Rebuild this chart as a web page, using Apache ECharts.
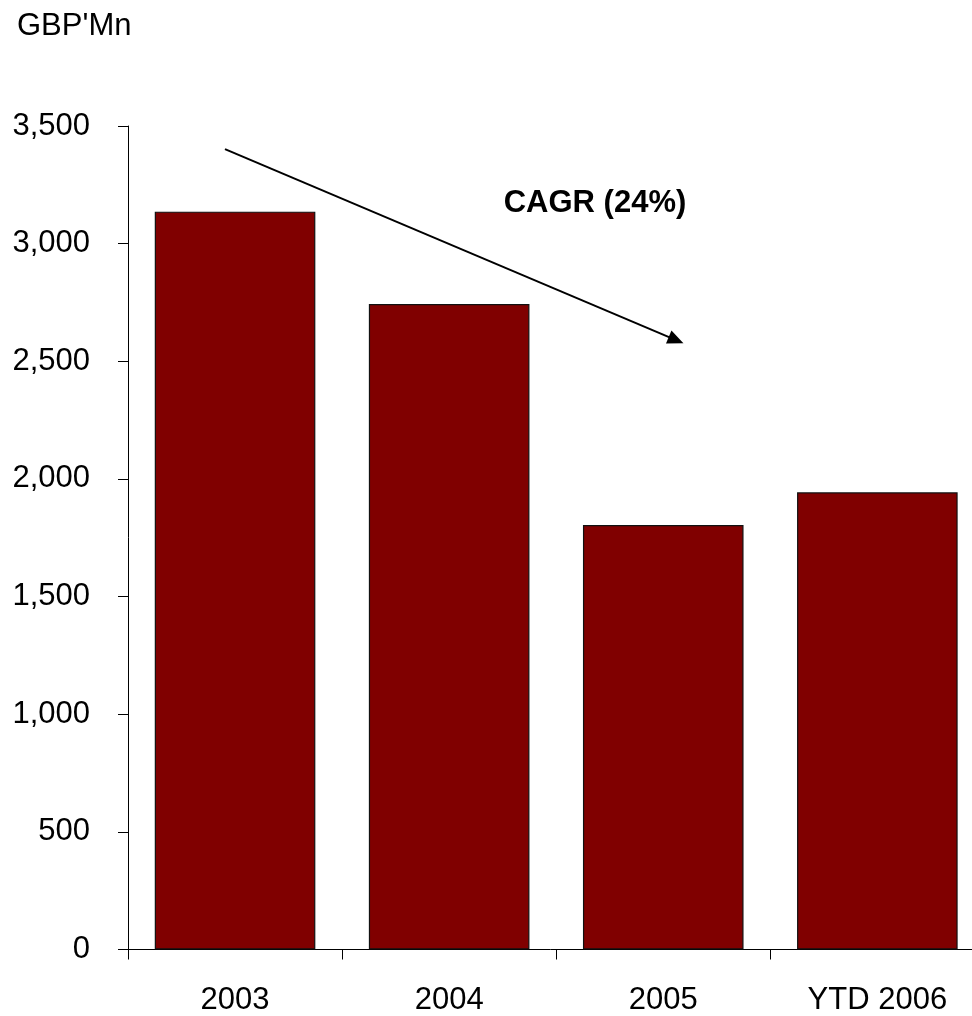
<!DOCTYPE html>
<html><head><meta charset="utf-8">
<script src="https://cdn.jsdelivr.net/npm/echarts@6/dist/echarts.min.js"></script>
<style>html,body{margin:0;padding:0;background:#fff}#c{width:972px;height:1016px}</style>
</head><body><div id="c"></div>
<script>
const categories = ['2003', '2004', '2005', 'YTD 2006'];
const values = [3136, 2743, 1804, 1943];
const yTicks = [0, 500, 1000, 1500, 2000, 2500, 3000, 3500];
const unitLabel = "GBP'Mn";
const cagrLabel = 'CAGR (24%)';
// arrow annotation in (category position, value) coordinates
const arrowFrom = [-0.047, 3402];
const arrowTo = [2.06, 2590];

const font = 'Liberation Sans, Arial, sans-serif';
const chart = echarts.init(document.getElementById('c'), null, {renderer: 'canvas'});
chart.setOption({
  animation: false,
  backgroundColor: '#fff',
  grid: {left: 128, top: 126, width: 856.4, height: 823.5, containLabel: false, outerBoundsMode: 'none'},
  xAxis: [{
    type: 'category', data: categories,
    axisLine: {onZero: false, lineStyle: {color: '#000', width: 1}},
    axisTick: {show: true, length: 10, lineStyle: {color: '#000', width: 1}},
    axisLabel: {color: '#000', fontSize: 31, fontFamily: font, margin: 35}
  }, {
    type: 'value', min: -0.5, max: 3.5, show: false
  }],
  yAxis: {
    type: 'value', min: yTicks[0], max: yTicks[yTicks.length - 1], interval: 500,
    splitLine: {show: false},
    axisLine: {show: true, onZero: false, lineStyle: {color: '#000', width: 1}},
    axisTick: {show: true, length: 10, lineStyle: {color: '#000', width: 1}},
    axisLabel: {color: '#000', fontSize: 31, fontFamily: font, margin: 38,
      formatter: v => v.toLocaleString('en-US')}
  },
  series: [{
    type: 'bar', data: values, barCategoryGap: '25%',
    itemStyle: {color: '#800000', borderColor: '#111', borderWidth: 1.2}
  }, {
    type: 'line', xAxisIndex: 1, data: [], silent: true,
    markLine: {
      silent: true, symbol: ['none', 'triangle'], symbolSize: [14, 16],
      label: {show: false},
      lineStyle: {color: '#000', width: 2, type: 'solid'},
      data: [[{coord: arrowFrom}, {coord: arrowTo}]]
    }
  }],
  graphic: [{
    type: 'text', left: 17, top: 11,
    style: {text: unitLabel, fill: '#000', font: '31px ' + font}
  }, {
    type: 'text', x: 595, y: 203,
    style: {text: cagrLabel, fill: '#000', font: 'bold 31px ' + font, align: 'center', verticalAlign: 'middle'}
  }]
});
</script></body></html>
